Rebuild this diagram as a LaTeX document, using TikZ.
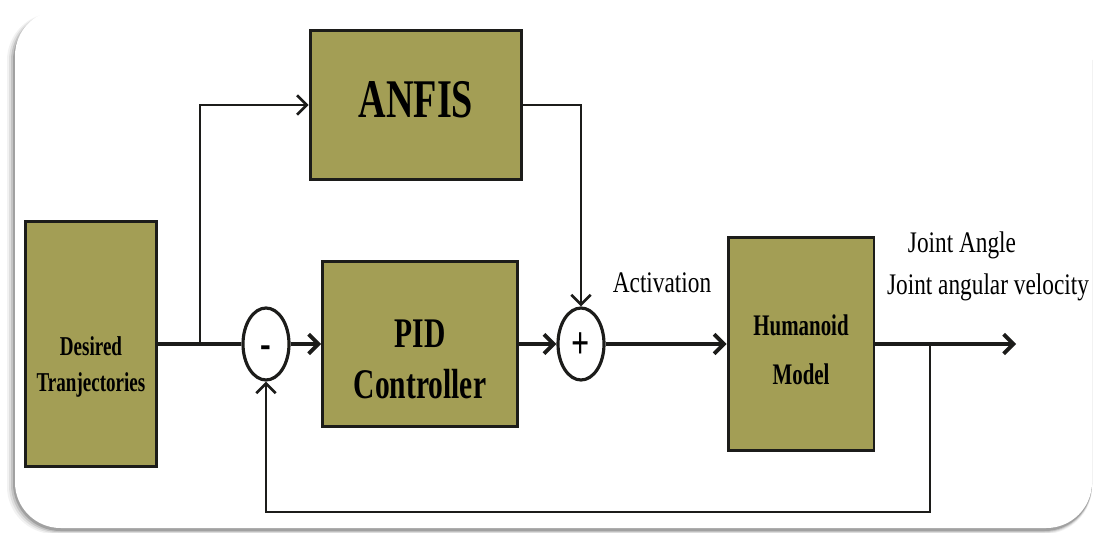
\documentclass[tikz,border=0pt]{standalone}
\usepackage{fontspec}
\setmainfont{Liberation Serif}[FakeStretch=0.78]
\newfontfamily\boxfont{Liberation Serif}[FakeStretch=0.70]
\usetikzlibrary{arrows.meta,positioning,shapes.geometric}
\definecolor{boxfill}{HTML}{A39E55}
\definecolor{edge}{HTML}{1C1C1A}

\begin{document}
\begin{tikzpicture}[
          x=0.02cm,y=-0.02cm,
          >={Straight Barb[length=5.5pt,width=11pt]},
          block/.style={draw=edge,line width=1.7pt,fill=boxfill,
              inner sep=0pt,align=center},
          btext/.style={align=center,inner sep=0pt},
          signtext/.style={inner sep=0pt,font=\boxfont\bfseries\fontsize{26}{26}\selectfont},
          sumnode/.style={ellipse,draw=edge,line width=1.8pt,fill=white,
              minimum width=0.92cm,minimum height=1.44cm,inner sep=0pt},
          main/.style={line width=2.2pt,draw=edge},
          wire/.style={line width=1.5pt,draw=edge},
          lbl/.style={anchor=base,font=\fontsize{17}{20}\selectfont}]
        \useasboundingbox (0,0) rectangle (1097,533);
        % frame with soft shadow
        \foreach \s/\op in {8/.05,6/.08,4/.12,2/.18}
          \fill[black,opacity=\op,rounded corners=27pt] (15-\s,13) rectangle (1092,530+\s/2);
        \fill[white,rounded corners=26pt] (15,10) rectangle (1092,528);
        % blocks
        \node[block,minimum width=2.62cm,minimum height=4.92cm,
            label={[btext,yshift=-0.46cm,font=\boxfont\bfseries\fontsize{15.5}{20}\selectfont]center:{Desired\\Tranjectories}}] (des) at (91,344) {};
        \node[block,minimum width=4.24cm,minimum height=2.98cm,
            label={[btext,yshift=0.1cm,font=\boxfont\bfseries\fontsize{31}{36}\selectfont]center:ANFIS}] (anfis) at (416,105) {};
        \node[block,minimum width=3.9cm,minimum height=3.32cm,
            label={[btext,yshift=-0.3cm,font=\boxfont\bfseries\fontsize{24}{29}\selectfont]center:{PID\\Controller}}] (pid) at (420,344) {};
        \node[block,minimum width=2.92cm,minimum height=4.26cm,
            label={[btext,yshift=-0.12cm,font=\boxfont\bfseries\fontsize{17}{25.6}\selectfont]center:{Humanoid\\[2pt]Model}}] (hum) at (801,344) {};
        \node[sumnode,label={[signtext,yshift=-0.17cm]center:-}] (minus) at (266,344) {};
        \node[sumnode,label={[signtext,yshift=-0.03cm]center:+}] (plus) at (581,344) {};
        % labels
        \node[lbl] (act) at (662,292) {Activation};
        \node[lbl] (ang) at (962,253) {Joint Angle};
        \node[lbl] (vel) at (988,295) {Joint angular velocity};
        % connectors
        \coordinate (br) at (200,344);
        \coordinate (tap) at (930,344);
        \coordinate (fb) at (930,512);
        \coordinate (out) at (1016,344);
        \draw[main] (des.east)--(minus.west);
        \draw[wire,->] (br) |- (anfis.west);
        \draw[wire,->] (anfis.east) -| (plus.north);
        \foreach \x/\y in {minus/pid,pid/plus,plus/hum,hum/out}
        \draw[main,->] (\x)--(\y);
        \draw[wire,->] (tap)--(fb) -| (minus.south);
      \end{tikzpicture}
\end{document}
